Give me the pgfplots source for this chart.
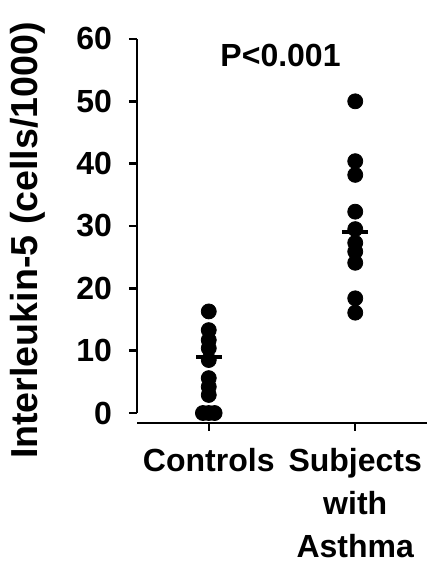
\documentclass[border=0pt]{standalone}
\usepackage{pgfplots}
\pgfplotsset{compat=1.18}
\usepackage{fontspec}
\setmainfont{Liberation Sans}

\begin{document}
\begin{tikzpicture}[font=\fontsize{16}{19}\selectfont\bfseries]
  \begin{axis}[
    at={(0,0)}, anchor=south west,
    scale only axis,
    width=145pt, height=192pt,
    xmin=-0.49, xmax=1.49,
    ymin=-1.6, ymax=60,
    axis x line=bottom,
    axis y line=left,
    axis line style={-, line width=1.2pt},
    y axis line style={draw=none},
    clip=false,
    xtick={0,1},
    xticklabels={Controls, {Subjects\\with\\Asthma}},
    xticklabel style={align=center, anchor=north, yshift=-5pt,
      font=\fontsize{16}{21.5}\selectfont\bfseries},
    ytick={0,10,...,60},
    yticklabel style={anchor=east, xshift=-5pt},
    tick align=outside,
    major tick length=4pt,
    tick style={line width=1.2pt, black},
    /pgf/number format/assume math mode=true,
    ylabel={Interleukin-5 (cells/1000)},
    every axis y label/.style={at={(axis description cs:-0.375,0.475)},
      rotate=90, anchor=center, font=\fontsize{18.8}{22}\selectfont\bfseries},
  ]
    % individual subjects
    \addplot[only marks, mark=*, mark size=3.75pt, black] coordinates {
      (0,16.3) (0,13.3) (0,11.7) (0,10.4) (0,8.5) (0,5.6) (0,4.2) (0,2.9)
      (-0.04,0) (0,0) (0.04,0)
    };
    \addplot[only marks, mark=*, mark size=3.75pt, black] coordinates {
      (1,50.0) (1,40.4) (1,38.2) (1,32.3) (1,29.5) (1,27.3) (1,25.9)
      (1,24.1) (1,18.4) (1,16.1)
    };
    % means
    \addplot[only marks, mark=-, mark size=6.5pt, line width=2pt, black]
      coordinates {(0,9.0) (1,29.1)};
    \draw[line width=1.2pt] (axis cs:-0.49,0) -- (axis cs:-0.49,60);
    \node at (axis cs:0.49,57.4) {P<0.001};
  \end{axis}
  \pgfresetboundingbox
  \path[use as bounding box] (-68.5pt,-71pt) rectangle (145pt,211.5pt);
\end{tikzpicture}
\end{document}
